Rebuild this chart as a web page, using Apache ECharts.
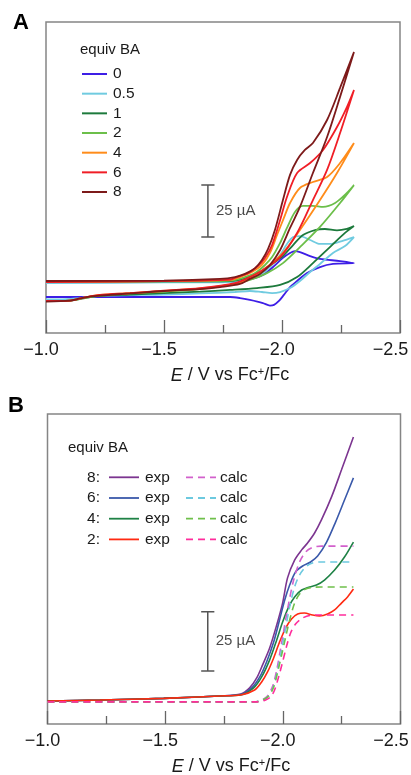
<!DOCTYPE html>
<html>
<head>
<meta charset="utf-8">
<script src="https://cdn.jsdelivr.net/npm/echarts@6/dist/echarts.min.js"></script>
<style>
  html, body { margin: 0; padding: 0; background: #fff; overflow: hidden; }
  #chart { width: 411px; height: 775px; }
</style>
</head>
<body>
<div id="chart"></div>
<script>
// ---------- Panel A: CVs with increasing equivalents of BA ([E / V, I / uA]) ----------
const cvLabels = ['0', '0.5', '1', '2', '4', '6', '8'];

// each trace: cathodic sweep from -1.0 V to -2.305 V, then return sweep
const cv0 = [
  [-1.000, 7.2], [-1.500, 7.2], [-1.780, 7.2], [-1.852, 8.2], [-1.919, 10.6], [-1.962, 14.4],
  [-2.004, 18.8], [-2.034, 21.2], [-2.055, 22.1], [-2.076, 21.6], [-2.119, 19.7], [-2.161, 18.3],
  [-2.246, 17.3], [-2.305, 16.3],
  [-2.216, 15.9], [-2.161, 14.4], [-2.106, 11.5], [-2.064, 7.7], [-2.034, 4.8], [-2.008, 1.0],
  [-1.987, -1.9], [-1.966, -3.8], [-1.949, -4.1], [-1.919, -2.9], [-1.864, -1.4], [-1.822, -0.5],
  [-1.780, 0.0], [-1.500, 0.0], [-1.000, 0.0]
];
const cv05 = [
  [-1.000, 6.7], [-1.500, 7.0], [-1.780, 7.2], [-1.852, 8.2], [-1.907, 10.6], [-1.949, 14.4],
  [-1.992, 20.2], [-2.021, 25.5], [-2.047, 28.8], [-2.076, 29.3], [-2.119, 27.4], [-2.161, 25.5],
  [-2.203, 25.5], [-2.254, 26.9], [-2.305, 28.8],
  [-2.267, 24.5], [-2.216, 21.2], [-2.161, 15.9], [-2.119, 12.0], [-2.076, 7.7], [-2.034, 4.3],
  [-1.992, 2.4], [-1.958, 1.9], [-1.915, 2.4], [-1.864, 2.9], [-1.801, 2.4], [-1.653, 1.7],
  [-1.500, 1.2], [-1.229, 0.5], [-1.144, -0.5], [-1.059, -1.2], [-1.000, -1.2]
];
const cv1 = [
  [-1.000, 7.2], [-1.500, 7.5], [-1.780, 7.7], [-1.843, 9.1], [-1.907, 12.0], [-1.958, 15.9],
  [-2.004, 19.7], [-2.047, 25.0], [-2.089, 29.8], [-2.140, 32.2], [-2.182, 32.7], [-2.233, 32.0],
  [-2.275, 32.7], [-2.305, 34.1],
  [-2.267, 30.8], [-2.203, 24.0], [-2.131, 16.3], [-2.064, 9.6], [-1.992, 5.8], [-1.894, 4.3],
  [-1.780, 3.4], [-1.653, 2.6], [-1.500, 1.9], [-1.356, 1.2], [-1.229, 0.5], [-1.165, -0.5],
  [-1.102, -1.7], [-1.000, -1.9]
];
const cv2 = [
  [-1.000, 7.2], [-1.500, 7.5], [-1.780, 7.9], [-1.831, 9.1], [-1.886, 11.5], [-1.928, 15.4],
  [-1.958, 19.2], [-1.992, 26.0], [-2.021, 33.2], [-2.055, 40.9], [-2.089, 43.8], [-2.131, 43.8],
  [-2.174, 43.3], [-2.225, 45.2], [-2.275, 50.0], [-2.305, 53.8],
  [-2.246, 45.2], [-2.161, 33.7], [-2.076, 24.0], [-2.004, 16.3], [-1.936, 11.5], [-1.864, 8.2],
  [-1.780, 5.8], [-1.653, 3.8], [-1.500, 2.6], [-1.356, 1.7], [-1.229, 0.7], [-1.165, -0.5],
  [-1.102, -1.7], [-1.000, -1.9]
];
const cv4 = [
  [-1.000, 7.2], [-1.500, 7.7], [-1.780, 8.2], [-1.822, 9.6], [-1.873, 12.0], [-1.915, 15.4],
  [-1.949, 21.2], [-1.979, 29.8], [-2.008, 38.0], [-2.034, 45.2], [-2.076, 52.4], [-2.131, 55.3],
  [-2.191, 57.7], [-2.246, 64.4], [-2.305, 74.0],
  [-2.233, 59.6], [-2.161, 46.6], [-2.076, 32.2], [-2.004, 21.2], [-1.936, 14.4], [-1.877, 9.6],
  [-1.801, 6.3], [-1.653, 4.1], [-1.500, 2.9], [-1.356, 1.9], [-1.229, 1.0], [-1.165, -0.2],
  [-1.102, -1.7], [-1.000, -1.9]
];
const cv6 = [
  [-1.000, 7.2], [-1.500, 7.7], [-1.780, 8.4], [-1.809, 9.6], [-1.856, 11.5], [-1.898, 14.9],
  [-1.928, 18.8], [-1.958, 25.0], [-1.992, 37.0], [-2.021, 48.1], [-2.064, 59.6], [-2.119, 64.4],
  [-2.174, 70.7], [-2.233, 81.7], [-2.275, 91.3], [-2.305, 99.5],
  [-2.246, 78.8], [-2.191, 61.1], [-2.131, 46.6], [-2.064, 30.8], [-1.992, 19.2], [-1.919, 13.0],
  [-1.864, 9.6], [-1.801, 6.7], [-1.653, 4.3], [-1.500, 3.1], [-1.356, 1.9], [-1.229, 1.0],
  [-1.165, -0.2], [-1.102, -1.7], [-1.000, -1.9]
];
const cv8 = [
  [-1.000, 7.7], [-1.500, 7.9], [-1.737, 8.7], [-1.801, 9.6], [-1.843, 11.1], [-1.886, 13.9],
  [-1.915, 17.8], [-1.941, 23.1], [-1.970, 32.2], [-2.004, 46.6], [-2.034, 58.7], [-2.064, 65.9],
  [-2.097, 70.7], [-2.131, 74.0], [-2.191, 85.1], [-2.246, 100.5], [-2.305, 117.8],
  [-2.246, 96.2], [-2.191, 76.9], [-2.131, 59.6], [-2.076, 43.3], [-2.034, 33.2], [-1.992, 22.6],
  [-1.949, 15.4], [-1.907, 11.1], [-1.864, 8.7], [-1.822, 6.3], [-1.737, 4.8], [-1.653, 3.8],
  [-1.500, 2.9], [-1.356, 1.7], [-1.229, 0.7], [-1.186, 0.2], [-1.144, -0.7], [-1.102, -1.7],
  [-1.000, -2.2]
];
const cvSets = [cv0, cv05, cv1, cv2, cv4, cv6, cv8];
const cvColors = ['#3d1ee6', '#70cbe0', '#1d7a3c', '#6cbf4a', '#ff8c1a', '#f01e26', '#7d1a1a'];

// ---------- Panel B: experimental vs calculated LSVs ----------
const lsvLabels = ['8:', '6:', '4:', '2:'];
const exp8 = [
  [-1.000, 0.0], [-1.223, 0.4], [-1.494, 1.1], [-1.732, 2.1], [-1.821, 2.9], [-1.859, 5.5],
  [-1.889, 9.7], [-1.914, 15.2], [-1.944, 22.3], [-1.974, 32.0], [-1.999, 41.2], [-2.020, 51.8],
  [-2.050, 59.3], [-2.080, 63.6], [-2.105, 66.5], [-2.135, 70.7], [-2.164, 76.2], [-2.207, 85.9],
  [-2.249, 97.2], [-2.300, 111.1]
];
const exp6 = [
  [-1.000, 0.0], [-1.223, 0.4], [-1.494, 1.1], [-1.732, 2.1], [-1.821, 2.7], [-1.868, 5.5],
  [-1.902, 10.1], [-1.931, 16.4], [-1.961, 24.8], [-1.986, 34.1], [-2.008, 42.5], [-2.029, 48.8],
  [-2.054, 54.3], [-2.084, 56.8], [-2.118, 58.5], [-2.148, 61.0], [-2.186, 66.9], [-2.224, 75.3],
  [-2.262, 84.6], [-2.300, 93.9]
];
const exp4 = [
  [-1.000, 0.0], [-1.223, 0.4], [-1.494, 1.1], [-1.732, 2.1], [-1.821, 2.5], [-1.876, 5.5],
  [-1.910, 10.1], [-1.944, 17.3], [-1.974, 25.7], [-1.999, 33.2], [-2.025, 39.6], [-2.050, 43.8],
  [-2.080, 46.7], [-2.114, 48.0], [-2.143, 48.8], [-2.177, 50.9], [-2.220, 55.1], [-2.262, 60.6],
  [-2.300, 66.9]
];
const exp2 = [
  [-1.000, 0.0], [-1.223, 0.4], [-1.494, 1.1], [-1.732, 2.1], [-1.821, 2.5], [-1.880, 4.6],
  [-1.910, 8.0], [-1.935, 12.2], [-1.961, 18.1], [-1.986, 24.8], [-2.012, 30.7], [-2.037, 34.5],
  [-2.063, 36.6], [-2.092, 37.0], [-2.126, 36.2], [-2.156, 35.8], [-2.190, 36.6], [-2.220, 38.3],
  [-2.249, 41.2], [-2.275, 43.8], [-2.300, 47.1]
];
const calc8 = [
  [-1.000, -0.4], [-1.880, -0.4], [-1.910, 0.4], [-1.935, 2.1], [-1.957, 6.3], [-1.974, 13.0],
  [-1.991, 22.3], [-2.008, 32.0], [-2.025, 41.2], [-2.046, 50.9], [-2.071, 58.5], [-2.097, 62.7],
  [-2.126, 64.6], [-2.164, 65.2], [-2.300, 65.2]
];
const calc6 = [
  [-1.000, -0.4], [-1.880, -0.4], [-1.914, 0.4], [-1.940, 2.1], [-1.961, 6.3], [-1.978, 13.0],
  [-1.995, 21.5], [-2.012, 30.7], [-2.029, 39.6], [-2.050, 48.0], [-2.071, 53.0], [-2.097, 56.4],
  [-2.126, 58.1], [-2.164, 58.5], [-2.300, 58.5]
];
const calc4 = [
  [-1.000, -0.4], [-1.880, -0.4], [-1.914, 0.4], [-1.940, 2.1], [-1.961, 5.9], [-1.978, 12.2],
  [-1.995, 19.4], [-2.012, 26.9], [-2.029, 34.1], [-2.050, 41.2], [-2.071, 45.0], [-2.097, 47.1],
  [-2.126, 47.8], [-2.164, 48.0], [-2.300, 48.0]
];
const calc2 = [
  [-1.000, -0.4], [-1.893, -0.4], [-1.927, 0.4], [-1.948, 1.7], [-1.965, 4.6], [-1.982, 10.1],
  [-1.999, 16.4], [-2.016, 23.1], [-2.033, 28.6], [-2.054, 32.4], [-2.080, 34.7], [-2.114, 36.0],
  [-2.156, 36.2], [-2.300, 36.2]
];
const expSets = [exp8, exp6, exp4, exp2];
const calcSets = [calc8, calc6, calc4, calc2];
const expColors = ['#7c3590', '#3a59aa', '#1f8246', '#ff2a12'];
const calcColors = ['#d260cc', '#6cc9df', '#6fc04b', '#ff2d9c'];

// scale bars: [E position, lower current, length in uA]
const scaleBarA = [-1.686, 28.8, 25];
const scaleBarB = [-1.681, 12.6, 25];

// ---------- drawing ----------
const FONT = "'Liberation Sans', Arial, Helvetica, sans-serif";
const TXT = '#1a1a1a';
const FRAME = '#858585';
const chart = echarts.init(document.getElementById('chart'), null, { renderer: 'canvas' });

function xAxisFor(gridIndex) {
  return {
    type: 'value', gridIndex: gridIndex,
    min: -2.5, max: -1.0, interval: 0.5, inverse: true,
    axisLine: { show: false, onZero: false },
    splitLine: { show: false },
    axisTick: { show: true, inside: true, length: 13, lineStyle: { color: '#666', width: 1.3 } },
    minorTick: { show: true, splitNumber: 2, length: 8, lineStyle: { color: '#666', width: 1.3 } },
    axisLabel: {
      fontSize: 18, color: TXT, fontFamily: FONT, margin: 8,
      // the minus sign hangs left of the centred digits; the last label is kept inside the page
      formatter: v => {
        const s = (v < 0 ? '\u2212' : '') + Math.abs(v).toFixed(1);
        return v <= -2.5 ? '{e|' + s + '}' : '{n|' + s + '}';
      },
      rich: {
        n: { fontSize: 18, color: TXT, fontFamily: FONT, padding: [0, 10, 0, 0] },
        e: { fontSize: 18, color: TXT, fontFamily: FONT, padding: [0, 19, 0, 0] }
      }
    },
    name: '{i|E} / V vs Fc{s|+}/Fc',
    nameLocation: 'middle', nameGap: 33,
    nameTextStyle: {
      fontSize: 18, color: TXT, fontFamily: FONT, padding: [0, 0, 0, 14],
      rich: {
        i: { fontSize: 18, fontStyle: 'italic', color: TXT, fontFamily: FONT },
        s: { fontSize: 11, color: TXT, fontFamily: FONT, verticalAlign: 'top', padding: [0, 0, 8, 0] }
      }
    }
  };
}

function scaleBarSeries(bar, axisIndex) {
  const [e, lo, len] = bar;
  const hi = lo + len, cap = 0.028;
  return [{
    type: 'line', xAxisIndex: axisIndex, yAxisIndex: axisIndex,
    data: [[e + cap, lo], [e - cap, lo], [e, lo], [e, hi], [e + cap, hi], [e - cap, hi]],
    showSymbol: false, symbol: 'none', silent: true,
    lineStyle: { color: '#555', width: 1.5 }, z: 1
  }, {
    type: 'scatter', xAxisIndex: axisIndex, yAxisIndex: axisIndex,
    data: [[e, lo + len / 2]], symbolSize: 0, silent: true,
    label: {
      show: true, position: 'right', distance: 8,
      formatter: len + ' \u00b5A', fontSize: 15, color: TXT, fontFamily: FONT
    }
  }];
}

const series = [];
cvSets.forEach((d, i) => series.push({
  name: cvLabels[i], type: 'line', xAxisIndex: 0, yAxisIndex: 0, data: d,
  showSymbol: false, symbol: 'none', smooth: 0.3, silent: true,
  lineStyle: { color: cvColors[i], width: 1.8 }, z: 2 + i
}));
series.push(...scaleBarSeries(scaleBarA, 0));
expSets.forEach((d, i) => series.push({
  name: 'exp ' + lsvLabels[i], type: 'line', xAxisIndex: 1, yAxisIndex: 1, data: d,
  showSymbol: false, symbol: 'none', smooth: 0.3, silent: true,
  lineStyle: { color: expColors[i], width: 1.6 }, z: 2 + i
}));
calcSets.forEach((d, i) => series.push({
  name: 'calc ' + lsvLabels[i], type: 'line', xAxisIndex: 1, yAxisIndex: 1, data: d,
  showSymbol: false, symbol: 'none', smooth: 0.3, silent: true,
  lineStyle: { color: calcColors[i], width: 1.6, type: [7, 5] }, z: 10 + i
}));
series.push(...scaleBarSeries(scaleBarB, 1));

// legend keys drawn as graphic elements
const graphics = [];
function text(x, y, str, size, extra) {
  return {
    type: 'text', x: x, y: y, silent: true,
    style: Object.assign({ text: str, fill: TXT, font: size + 'px ' + FONT, verticalAlign: 'middle', align: 'left' }, extra || {})
  };
}
graphics.push({ type: 'text', x: 13, y: 12, silent: true,
  style: { text: 'A', fill: '#000', font: 'bold 22px ' + FONT } });
graphics.push({ type: 'text', x: 8, y: 395, silent: true,
  style: { text: 'B', fill: '#000', font: 'bold 22px ' + FONT } });

graphics.push(text(80, 50, 'equiv BA', 15));
cvLabels.forEach((lab, i) => {
  const y = 74 + i * 19.67;
  graphics.push({ type: 'line', silent: true, shape: { x1: 82, y1: y, x2: 107, y2: y },
    style: { stroke: cvColors[i], lineWidth: 2 } });
  graphics.push(text(113, y, lab, 15.5));
});

graphics.push(text(68, 448, 'equiv BA', 15));
lsvLabels.forEach((lab, i) => {
  const y = 477.3 + i * 20.7;
  graphics.push(text(100, y, lab, 15.5, { align: 'right' }));
  graphics.push({ type: 'line', silent: true, shape: { x1: 109, y1: y, x2: 139, y2: y },
    style: { stroke: expColors[i], lineWidth: 1.8 } });
  graphics.push(text(145, y, 'exp', 15.5));
  graphics.push({ type: 'line', silent: true, shape: { x1: 186, y1: y, x2: 216, y2: y },
    style: { stroke: calcColors[i], lineWidth: 1.8, lineDash: [7, 5] } });
  graphics.push(text(220, y, 'calc', 15.5));
});

chart.setOption({
  animation: false,
  backgroundColor: '#fff',
  grid: [
    { left: 46, top: 22, width: 354, height: 311, show: true, borderColor: FRAME, borderWidth: 1.5,
      outerBoundsMode: 'none', containLabel: false },
    { left: 47.5, top: 414, width: 353, height: 310, show: true, borderColor: FRAME, borderWidth: 1.5,
      outerBoundsMode: 'none', containLabel: false }
  ],
  xAxis: [xAxisFor(0), xAxisFor(1)],
  yAxis: [
    { type: 'value', gridIndex: 0, min: -17.3, max: 132.2, show: false },
    { type: 'value', gridIndex: 1, min: -9.7, max: 120.8, show: false }
  ],
  series: series,
  graphic: graphics
});
</script>
</body>
</html>
